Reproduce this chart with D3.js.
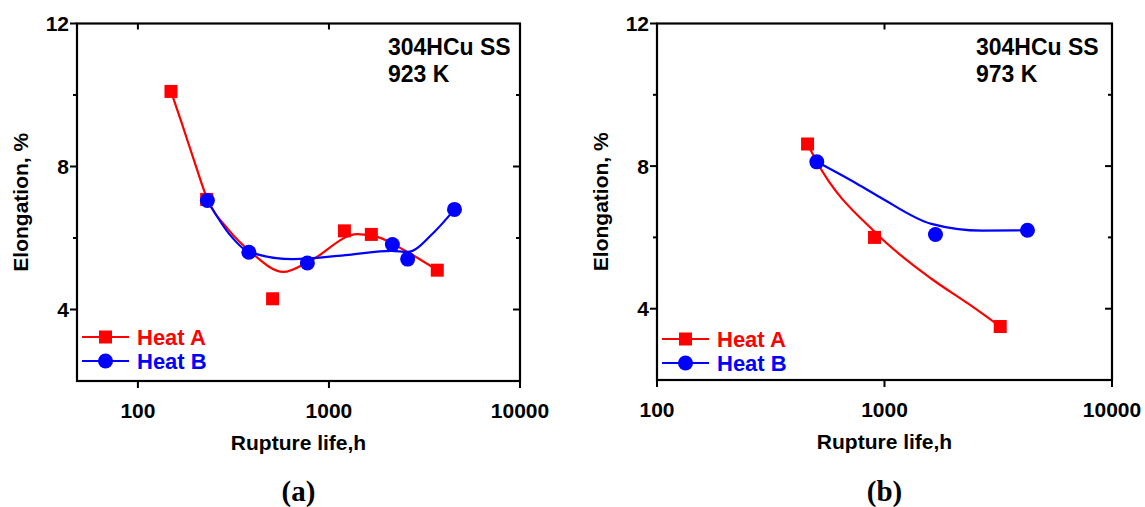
<!DOCTYPE html>
<html>
<head>
<meta charset="utf-8">
<script src="https://cdn.jsdelivr.net/npm/d3@7"></script>
<style>
  body { margin: 0; background: #fff; }
  text { font-family: "Liberation Sans", Arial, sans-serif; font-weight: bold; }
</style>
</head>
<body>
<svg id="chart" width="1145" height="507"></svg>
<script>
// ---- data ----
// panel (a) 923 K
const lifeA_923 = [149, 229, 507, 1205, 1667, 3690];
const elongA_923 = [10.1, 7.08, 4.3, 6.2, 6.1, 5.1];
const lifeB_923 = [231, 381, 771, 2148, 2582, 4540];
const elongB_923 = [7.05, 5.6, 5.3, 5.82, 5.41, 6.8];
// fitted curves
const fitLifeA_923 = [149, 170, 200, 232, 297, 389, 578, 781, 1409, 1791, 2570, 3690];
const fitElongA_923 = [10.1, 9.2, 8.05, 7.06, 6.24, 5.61, 5.05, 5.33, 6.11, 6.03, 5.61, 5.1];
const fitLifeB_923 = [231, 302, 381, 646, 1265, 2120, 2582, 3516, 4540];
const fitElongB_923 = [7.05, 6.1, 5.61, 5.41, 5.53, 5.64, 5.61, 6.14, 6.8];

// panel (b) 973 K
const lifeA_973 = [459, 904, 3226];
const elongA_973 = [8.62, 6.0, 3.5];
const lifeB_973 = [504, 1675, 4250];
const elongB_973 = [8.12, 6.08, 6.2];
const fitLifeA_973 = [459, 504, 931, 1607, 2335, 3226];
const fitElongA_973 = [8.62, 8.12, 6.08, 4.84, 4.14, 3.5];
const fitLifeB_973 = [504, 759, 960, 1607, 2693, 4250];
const fitElongB_973 = [8.12, 7.5, 7.12, 6.38, 6.19, 6.2];

const yTicks = [4, 8, 12];
const yMinor = [6, 10];
const xTicks = [100, 1000, 10000];
const seriesNames = ["Heat A", "Heat B"];
const seriesColors = ["#ff0000", "#0000ff"];

const svg = d3.select("#chart");

function zip(a, b){ return a.map(function(d,i){ return [d, b[i]]; }); }

function drawPanel(opt){
    let x = d3.scaleLog().domain(opt.xDomain).range([opt.left, opt.right]);
    let y = d3.scaleLinear().domain([2, 12]).range([opt.bottom, opt.top]);
    let g = svg.append("g");

    // frame
    g.append("rect")
    .attr("x", opt.left).attr("y", opt.top)
    .attr("width", opt.right-opt.left).attr("height", opt.bottom-opt.top)
    .attr("fill", "none").attr("stroke", "#000").attr("stroke-width", 2.2);

    // left ticks (outward)
    g.selectAll(".ly").data(yTicks).enter().append("line")
    .attr("x1", opt.left-7).attr("x2", opt.left)
    .attr("y1", function(d){ return y(d)}).attr("y2", function(d){ return y(d)})
    .attr("stroke", "#000").attr("stroke-width", 2);
    g.selectAll(".lym").data(yMinor).enter().append("line")
    .attr("x1", opt.left-4).attr("x2", opt.left)
    .attr("y1", function(d){ return y(d)}).attr("y2", function(d){ return y(d)})
    .attr("stroke", "#000").attr("stroke-width", 2);
    // right ticks (inward)
    g.selectAll(".ry").data(yTicks.slice(0,2)).enter().append("line")
    .attr("x1", opt.right-7).attr("x2", opt.right)
    .attr("y1", function(d){ return y(d)}).attr("y2", function(d){ return y(d)})
    .attr("stroke", "#000").attr("stroke-width", 2);
    g.selectAll(".rym").data(yMinor).enter().append("line")
    .attr("x1", opt.right-4).attr("x2", opt.right)
    .attr("y1", function(d){ return y(d)}).attr("y2", function(d){ return y(d)})
    .attr("stroke", "#000").attr("stroke-width", 2);
    // bottom ticks (outward) and top ticks (inward)
    g.selectAll(".bx").data(xTicks).enter().append("line")
    .attr("x1", function(d){ return x(d)}).attr("x2", function(d){ return x(d)})
    .attr("y1", opt.bottom).attr("y2", opt.bottom+7)
    .attr("stroke", "#000").attr("stroke-width", 2);
    g.selectAll(".tx").data(xTicks.filter(function(d){ return d<10000 && x(d)>opt.left+2})).enter().append("line")
    .attr("x1", function(d){ return x(d)}).attr("x2", function(d){ return x(d)})
    .attr("y1", opt.top).attr("y2", opt.top+6)
    .attr("stroke", "#000").attr("stroke-width", 2);

    // tick labels
    g.selectAll(".yl").data(yTicks).enter().append("text")
    .attr("x", opt.left-8).attr("y", function(d){ return y(d)+7.5})
    .attr("text-anchor", "end").attr("font-size", 21)
    .text(function(d){ return d});
    g.selectAll(".xl").data(xTicks).enter().append("text")
    .attr("x", function(d){ return x(d)}).attr("y", opt.bottom+37)
    .attr("text-anchor", "middle").attr("font-size", 21)
    .text(function(d){ return d});

    // axis titles
    g.append("text")
    .attr("transform", "translate(" + (opt.left-49) + "," + ((opt.top+opt.bottom)/2) + ") rotate(-90)")
    .attr("text-anchor", "middle").attr("font-size", 21)
    .text("Elongation, %");
    g.append("text")
    .attr("x", (opt.left+opt.right)/2).attr("y", opt.bottom+69)
    .attr("text-anchor", "middle").attr("font-size", 21)
    .text("Rupture life,h");

    // annotation
    g.append("text").attr("x", opt.noteX).attr("y", opt.top+31)
    .attr("font-size", 23).text("304HCu SS");
    g.append("text").attr("x", opt.noteX).attr("y", opt.top+58)
    .attr("font-size", 23).text(opt.temp);

    // panel letter
    g.append("text").attr("x", (opt.left+opt.right)/2).attr("y", 501)
    .attr("text-anchor", "middle").attr("font-size", 29)
    .style("font-family", "'Liberation Serif', 'Times New Roman', serif")
    .text(opt.letter);

    let line = d3.line()
    .x(function(d){ return x(d[0])})
    .y(function(d){ return y(d[1])})
    .curve(d3.curveMonotoneX);

    // fitted curves
    opt.fits.forEach(function(f, i){
        g.append("path").attr("d", line(f))
        .attr("fill", "none").attr("stroke", seriesColors[i]).attr("stroke-width", 2.2);
    });

    // markers
    g.selectAll(".sq").data(opt.pts[0]).enter().append("rect")
    .attr("x", function(d){ return x(d[0])-6.5}).attr("y", function(d){ return y(d[1])-6.5})
    .attr("width", 13).attr("height", 13).attr("fill", seriesColors[0]);
    g.selectAll(".ci").data(opt.pts[1]).enter().append("circle")
    .attr("cx", function(d){ return x(d[0])}).attr("cy", function(d){ return y(d[1])})
    .attr("r", 7.5).attr("fill", seriesColors[1]);

    // legend
    seriesNames.forEach(function(name, i){
        let ly = opt.legY + i*24;
        let lx = opt.left + 5;
        g.append("line").attr("x1", lx).attr("x2", lx+47).attr("y1", ly).attr("y2", ly)
        .attr("stroke", seriesColors[i]).attr("stroke-width", 2.2);
        if(i==0){
            g.append("rect").attr("x", lx+23.5-6.5).attr("y", ly-6.5).attr("width", 13).attr("height", 13)
            .attr("fill", seriesColors[i]);
        } else {
            g.append("circle").attr("cx", lx+23.5).attr("cy", ly).attr("r", 7.5).attr("fill", seriesColors[i]);
        }
        g.append("text").attr("x", lx+55).attr("y", ly+8)
        .attr("font-size", 22).attr("fill", seriesColors[i]).text(name);
    });
}

drawPanel({
    xDomain: [48, 10000], left: 77, right: 520, top: 23.5, bottom: 381,
    noteX: 388, temp: "923 K", letter: "(a)", legY: 337,
    fits: [zip(fitLifeA_923, fitElongA_923), zip(fitLifeB_923, fitElongB_923)],
    pts: [zip(lifeA_923, elongA_923), zip(lifeB_923, elongB_923)]
});
drawPanel({
    xDomain: [100, 10000], left: 657, right: 1112, top: 23.5, bottom: 380,
    noteX: 976, temp: "973 K", letter: "(b)", legY: 339,
    fits: [zip(fitLifeA_973, fitElongA_973), zip(fitLifeB_973, fitElongB_973)],
    pts: [zip(lifeA_973, elongA_973), zip(lifeB_973, elongB_973)]
});
</script>
</body>
</html>
